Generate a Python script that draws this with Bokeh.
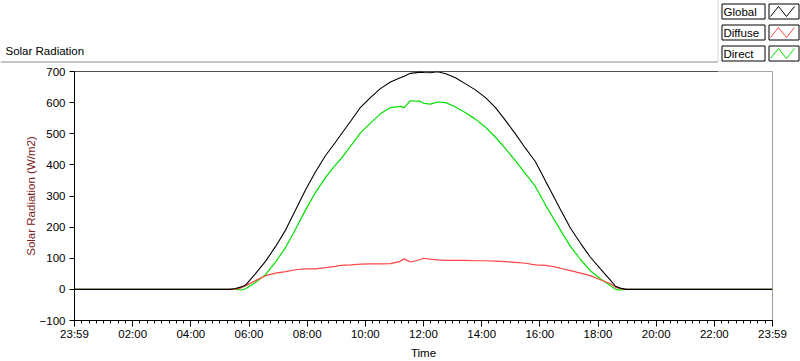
from bokeh.plotting import figure
from bokeh.layouts import column
from bokeh.models import Range1d, FixedTicker, Span, BoxAnnotation
from bokeh.core.properties import value
from bokeh.embed import file_html
from bokeh.resources import INLINE

# ---------------- data ----------------
times = ["00:00", "05:20", "05:32", "05:44", "05:53", "06:13", "06:34", "06:55",
         "07:16", "07:36", "07:56", "08:17", "08:38", "08:58", "09:09", "09:30",
         "09:50", "10:11", "10:31", "10:52", "11:12", "11:20", "11:33", "11:54",
         "12:00", "12:14", "12:29", "12:46", "13:06", "13:26", "13:47", "14:08",
         "14:29", "14:49", "15:10", "15:31", "15:41", "15:51", "16:12", "16:22",
         "16:42", "17:03", "17:24", "17:44", "18:05", "18:26", "18:36", "18:46",
         "18:58", "24:00"]
global_wm2 = [0, 0, 3, 8, 14, 50, 90, 138,
              192, 255, 318, 377, 430, 472, 496, 541,
              585, 617, 645, 666, 680, 685, 694, 698,
              697, 696, 699, 693, 680, 661, 641, 616,
              583, 543, 499, 452, 431, 410, 347, 318,
              258, 197, 148, 104, 66, 29, 10, 4,
              0, 0]
diffuse_wm2 = [0, 0, 1, 5, 12, 28, 44, 52,
               57, 63, 66, 66, 70, 74, 77, 79,
               81, 82, 82, 83, 90, 98, 88, 96,
               100, 97, 95, 93, 93, 93, 92, 92,
               91, 89, 87, 84, 81, 79, 77, 75,
               68, 60, 52, 44, 31, 18, 7, 2,
               0, 0]
direct_wm2 = [0, 0, 0, -2, 2, 22, 47, 88,
              136, 193, 253, 311, 360, 399, 418, 461,
              503, 535, 564, 584, 588, 584, 606, 604,
              598, 595, 602, 600, 586, 568, 547, 521,
              488, 452, 413, 370, 351, 330, 270, 244,
              192, 138, 96, 60, 34, 12, 0, -2,
              0, 0]

series_names = ["Global", "Diffuse", "Direct"]
series_colors = ["#000000", "#ff4646", "#00e000"]

x_tick_hours = [0, 2, 4, 6, 8, 10, 12, 14, 16, 18, 20, 22, 24]
x_tick_labels = ["23:59", "02:00", "04:00", "06:00", "08:00", "10:00", "12:00",
                 "14:00", "16:00", "18:00", "20:00", "22:00", "23:59"]
y_ticks = [-100, 0, 100, 200, 300, 400, 500, 600, 700]


def to_hours(t):
    h, m = t.split(":")
    return int(h) + int(m) / 60.0


hours = [to_hours(t) for t in times]

FONT = "Liberation Sans"
FS = "11.5px"
W = 800
HEAD_H = 63
MAIN_H = 361 - HEAD_H

# ---------------- header: caption + legend (pixel coordinates) ----------------
head = figure(width=W, height=HEAD_H, output_backend="svg", toolbar_location=None,
              title=None, x_axis_type=None, y_axis_type=None,
              x_range=Range1d(0, W), y_range=Range1d(HEAD_H, 0),
              min_border=0)
head.frame_align = False
head.outline_line_color = None
head.background_fill_color = "white"
head.border_fill_color = "white"

# outer frame line of the graph (top edge)
leg_left = 717.5
head.segment(x0=[0], y0=[61.5], x1=[leg_left], y1=[61.5],
             line_color="#8c8c8c", line_width=1)
head.text(x=[5], y=[50], text=["Solar Radiation"], text_font=value(FONT),
          text_font_size=value(FS), text_color="#000000",
          text_align="left", text_baseline="middle")

# legend panel
head.quad(left=[leg_left], right=[W + 5], top=[-5], bottom=[HEAD_H + 5],
          fill_color="white", line_color="#d4d4d4", line_width=1)
row_tops = [3.5, 24.5, 45.5]
box_h = 15
txt_l, txt_r = 721.5, 764.5
ico_l, ico_r = 768.5, 798.5
head.quad(left=[txt_l] * 3, right=[txt_r] * 3, top=row_tops,
          bottom=[t + box_h for t in row_tops],
          fill_color="white", line_color="black", line_width=1)
head.quad(left=[ico_l] * 3, right=[ico_r] * 3, top=row_tops,
          bottom=[t + box_h for t in row_tops],
          fill_color="white", line_color="black", line_width=1)
head.text(x=[723] * 3, y=[t + box_h / 2 + 0.5 for t in row_tops],
          text=series_names, text_font=value(FONT), text_font_size=value(FS),
          text_color="#000000", text_align="left", text_baseline="middle")
zig_dx = [1.5, 9.5, 17.5, 25.5]
zig_dy = [12.5, 2.5, 12.5, 2.5]
head.multi_line(xs=[[ico_l + d for d in zig_dx] for _ in row_tops],
                ys=[[t + d for d in zig_dy] for t in row_tops],
                line_color=series_colors, line_width=1)

# ---------------- main chart ----------------
p = figure(width=W, height=MAIN_H, output_backend="svg", toolbar_location=None,
           title=None, x_range=Range1d(0, 24), y_range=Range1d(-100, 700),
           min_border_left=74, min_border_right=28, min_border_top=8,
           min_border_bottom=39)
p.frame_align = False
p.background_fill_color = "white"
p.border_fill_color = "white"
p.outline_line_color = "#a0a0a0"
p.grid.visible = False

xa = p.xaxis[0]
xa.ticker = FixedTicker(ticks=x_tick_hours,
                        minor_ticks=[i * 0.25 for i in range(97)])
xa.major_label_overrides = {h: lab for h, lab in zip(x_tick_hours, x_tick_labels)}
xa.major_tick_out = 6
xa.major_tick_in = 0
xa.minor_tick_out = 3
xa.minor_tick_in = 0
xa.major_label_standoff = 1
xa.axis_label = "Time"
xa.axis_label_text_color = "#000000"
xa.axis_label_standoff = 4

ya = p.yaxis[0]
ya.ticker = FixedTicker(ticks=y_ticks, minor_ticks=[])
ya.major_tick_out = 5
ya.major_tick_in = 0
ya.major_label_standoff = 4
ya.axis_label = "Solar Radiation (W/m2)"
ya.axis_label_text_color = "#7b2020"
ya.axis_label_standoff = 0

for ax in (xa, ya):
    ax.axis_line_color = "black"
    ax.major_tick_line_color = "black"
    ax.minor_tick_line_color = "black"
    ax.major_label_text_font = FONT
    ax.major_label_text_font_size = FS
    ax.major_label_text_color = "#000000"
    ax.axis_label_text_font = FONT
    ax.axis_label_text_font_size = FS
    ax.axis_label_text_font_style = "normal"

# top border of the plot area
p.add_layout(Span(location=700, dimension="width", line_color="black",
                  line_width=1))

# data lines (Direct, Diffuse, then Global on top)
p.line(hours, direct_wm2, line_color=series_colors[2], line_width=1.2)
p.line(hours, diffuse_wm2, line_color=series_colors[1], line_width=1.2)
p.line(hours, global_wm2, line_color=series_colors[0], line_width=1.1)

# the legend panel hides the top border line at the right end
p.add_layout(BoxAnnotation(left=leg_left - 74, right=800, top=300, bottom=248,
                           left_units="screen", right_units="screen",
                           top_units="screen", bottom_units="screen",
                           fill_color="white", fill_alpha=1, line_alpha=0))

layout = column(head, p, spacing=0)
open("out.html", "w").write(file_html(layout, INLINE))
